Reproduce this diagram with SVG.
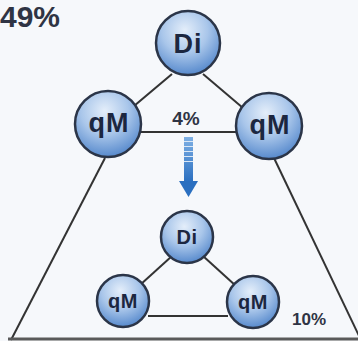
<svg xmlns="http://www.w3.org/2000/svg" width="358" height="341" viewBox="0 0 358 341">
<defs>
<radialGradient id="ball" cx="0.45" cy="0.3" r="0.8">
<stop offset="0" stop-color="#e4eefa"/>
<stop offset="0.45" stop-color="#a9c6ea"/>
<stop offset="1" stop-color="#3f78c4"/>
</radialGradient>
<linearGradient id="arr" x1="0" y1="0" x2="0" y2="1">
<stop offset="0" stop-color="#7fb0e4"/>
<stop offset="1" stop-color="#2a6fc0"/>
</linearGradient>
<style>
.n circle{fill:url(#ball);stroke:#2b3548;stroke-width:2.5}
.n text{font-family:"Liberation Sans",Arial,sans-serif;font-weight:bold;fill:#1c2740;text-anchor:middle}
.big text{font-size:27px;letter-spacing:1px}
.sm text{font-size:20px;letter-spacing:0.5px}
.ln{stroke:#333;stroke-width:2;fill:none}
.lbl{font-family:"Liberation Sans",Arial,sans-serif;font-weight:bold;fill:#2f3444}
</style>
</defs>
<rect width="358" height="341" fill="#f6f8fb"/>
<text class="lbl" x="0" y="27" font-size="30">49%</text>
<g id="connectors">
<line class="ln" x1="105" y1="158" x2="11" y2="340"/>
<line class="ln" x1="274" y1="158" x2="361" y2="340"/>
<line x1="8" y1="339" x2="358" y2="339" stroke="#5a5a5a" stroke-width="3"/>
<line class="ln" x1="172" y1="74" x2="134" y2="106"/>
<line class="ln" x1="203" y1="74" x2="243" y2="108"/>
<line class="ln" x1="140" y1="132" x2="240" y2="132"/>
<line class="ln" x1="172" y1="256" x2="140" y2="285"/>
<line class="ln" x1="203" y1="256" x2="236" y2="286"/>
<line class="ln" x1="148" y1="316" x2="228" y2="316"/>
</g>
<g id="arrow">
<rect x="184" y="137" width="9" height="45" fill="url(#arr)"/>
<g stroke="#dbe8f6" stroke-width="1">
<line x1="184" y1="141.5" x2="193" y2="141.5"/>
<line x1="184" y1="146.5" x2="193" y2="146.5"/>
<line x1="184" y1="151.5" x2="193" y2="151.5"/>
<line x1="184" y1="156.5" x2="193" y2="156.5"/>
<line x1="184" y1="161.5" x2="193" y2="161.5"/>
</g>
<polygon points="179,181 198,181 188.5,197" fill="#2a6fc0"/>
</g>
<text class="lbl" x="186" y="125" font-size="19" text-anchor="middle">4%</text>
<text class="lbl" x="292" y="325" font-size="17">10%</text>
<g id="di-top" class="n big"><circle cx="188" cy="43" r="32"/><text x="188" y="53">Di</text></g>
<g id="qm-top-left" class="n big"><circle cx="108" cy="124" r="33"/><text x="109" y="132">qM</text></g>
<g id="qm-top-right" class="n big"><circle cx="269" cy="126" r="33"/><text x="270" y="134">qM</text></g>
<g id="di-small" class="n sm"><circle cx="187" cy="237" r="26"/><text x="187" y="244">Di</text></g>
<g id="qm-small-left" class="n sm"><circle cx="123" cy="301" r="26"/><text x="123" y="308">qM</text></g>
<g id="qm-small-right" class="n sm"><circle cx="253" cy="302" r="26"/><text x="253" y="309">qM</text></g>
</svg>
